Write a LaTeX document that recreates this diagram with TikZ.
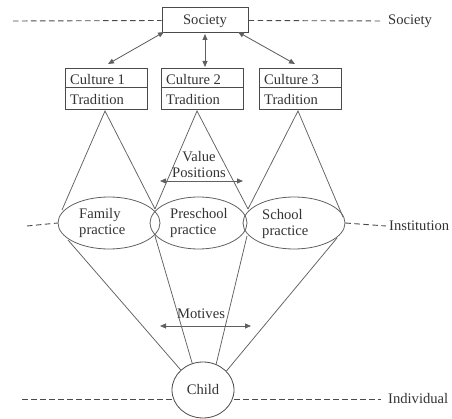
\documentclass[tikz,border=0pt]{standalone}
\usepackage{fontspec}
\setmainfont{Liberation Serif}
\usetikzlibrary{arrows.meta,shapes.geometric}
\definecolor{txt}{HTML}{333333}
\definecolor{bordr}{HTML}{4a4a4a}
\definecolor{ln}{HTML}{606060}
\begin{document}
\begin{tikzpicture}[x=1pt,y=-1pt,
  lbl/.style={font=\fontsize{14.6}{16}\selectfont, text=txt, inner sep=0pt},
  boxa/.style={draw=bordr, line width=1pt, minimum width=82pt, minimum height=41pt, inner sep=0pt},
  ell/.style={draw=ln, line width=0.8pt, ellipse, inner sep=0pt},
  thinln/.style={draw=ln, line width=0.75pt},
  dsh/.style={draw=bordr, line width=0.9pt, dash pattern=on 5.5pt off 3.5pt},
  arr/.style={draw=ln, line width=0.85pt, {Triangle[length=6pt,width=5pt]}-{Triangle[length=6pt,width=5pt]}},
]
\useasboundingbox (0,0) rectangle (452,419);

% Society box
\node[boxa, minimum width=86pt, minimum height=25pt] (soc) at (205,20.5) {};
\node[lbl] (soct) at (205,21) {Society};

% Culture boxes
\node[boxa] (c1) at (106,89.5) {};
\node[boxa] (c2) at (202.5,89.5) {};
\node[boxa] (c3) at (300.5,89.5) {};
\foreach \b in {c1,c2,c3}{
  \draw[draw=bordr, line width=1pt] ([yshift=1.5pt]\b.west) -- ([yshift=1.5pt]\b.east);
}
\node[lbl, anchor=west] (c1a) at (70,80) {Culture 1};
\node[lbl, anchor=west] (c1b) at (70,100) {Tradition};
\node[lbl, anchor=west] (c2a) at (166,80) {Culture 2};
\node[lbl, anchor=west] (c2b) at (166,100) {Tradition};
\node[lbl, anchor=west] (c3a) at (264,80) {Culture 3};
\node[lbl, anchor=west] (c3b) at (264,100) {Tradition};

% Society arrows
\coordinate (s1) at (164,32);
\coordinate (s2) at (205,34);
\coordinate (s3) at (238,32);
\coordinate (t1) at (108,64);
\coordinate (t2) at (205,67);
\coordinate (t3) at (295,64);
\draw[arr] (s1) -- (t1);
\draw[arr] (s2) -- (t2);
\draw[arr] (s3) -- (t3);

% Ellipses
\node[ell, minimum width=102pt, minimum height=52pt] (fam) at (109,223) {};
\node[ell, minimum width=97pt, minimum height=52pt] (pre) at (198.5,223) {};
\node[ell, minimum width=102pt, minimum height=52pt] (sch) at (294,223) {};
\node[lbl, anchor=west] (fama) at (79,215) {Family};
\node[lbl, anchor=west] (famb) at (79,231) {practice};
\node[lbl, anchor=west] (prea) at (170,214) {Preschool};
\node[lbl, anchor=west] (preb) at (170,231) {practice};
\node[lbl, anchor=west] (scha) at (262,215) {School};
\node[lbl, anchor=west] (schb) at (262,232) {practice};

% Triangle apices and ends
\coordinate (a1) at (105,111);
\coordinate (a2) at (197,111);
\coordinate (a3) at (298,111);
\coordinate (fl) at (62,210);
\coordinate (x1) at (155,209);
\coordinate (x2) at (248,209);
\coordinate (sr) at (343,217);
\draw[thinln] (fl) -- (a1) -- (x1);
\draw[thinln] (x1) -- (a2) -- (x2);
\draw[thinln] (x2) -- (a3) -- (sr);

% Value positions
\node[lbl, align=center] (val) at (199,165) {Value\\Positions};
\coordinate (va1) at (160,181);
\coordinate (va2) at (243,181);
\draw[arr] (va1) -- (va2);

% Child
\node[ell, draw=bordr, minimum width=62pt, minimum height=56pt] (child) at (203,390) {};
\node[lbl] (childt) at (203,390) {Child};

% Lines to child
\coordinate (fb) at (68,240);
\coordinate (xb1) at (155,236);
\coordinate (xb2) at (247,236);
\coordinate (sb) at (337,238);
\draw[thinln] (fb) -- (child.138);
\draw[thinln] (xb1) -- (child.112);
\draw[thinln] (xb2) -- (child.63);
\draw[thinln] (sb) -- (child.39);

% Motives
\node[lbl] (mot) at (201,314) {Motives};
\coordinate (ma1) at (160,326);
\coordinate (ma2) at (251,326);
\draw[arr] (ma1) -- (ma2);

% Level lines
\coordinate (sl) at (13,21);
\coordinate (sre) at (383,21);
\draw[dsh] (sl) -- (soc.west);
\draw[dsh] (soc.east) -- (sre);
\node[lbl, anchor=west] (socl) at (388,21) {Society};

\coordinate (il) at (27,226);
\coordinate (ire) at (386,226);
\draw[dsh] (il) -- (fam.west);
\draw[dsh] (sch.east) -- (ire);
\node[lbl, anchor=west] (instl) at (389,226) {Institution};

\coordinate (dl) at (22,399);
\coordinate (dre) at (381,399);
\draw[dsh] (dl) -- (child.west |- dl);
\draw[dsh] (child.east |- dre) -- (dre);
\node[lbl, anchor=west] (indl) at (388,399) {Individual};
\end{tikzpicture}
\end{document}
